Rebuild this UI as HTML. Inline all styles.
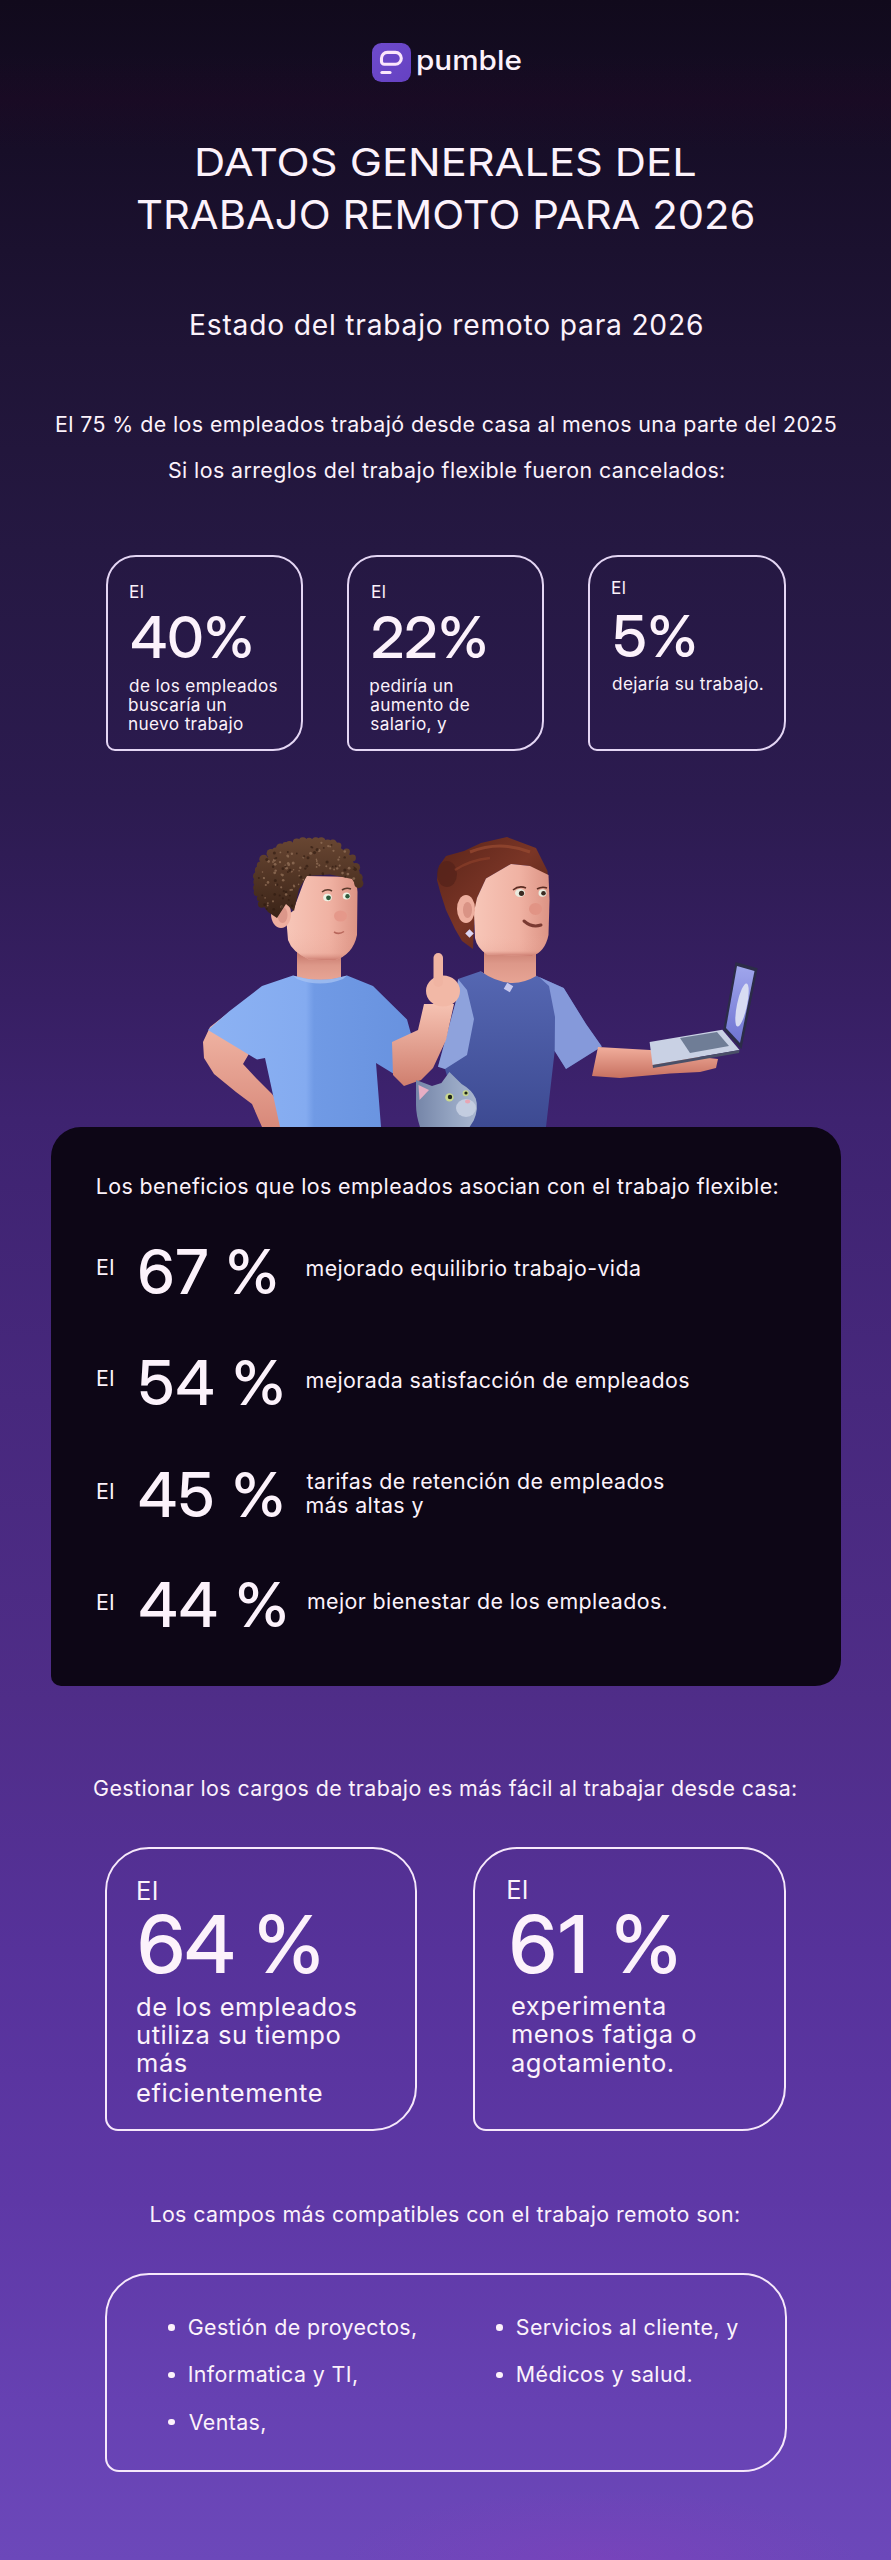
<!DOCTYPE html>
<html lang="es">
<head>
<meta charset="utf-8">
<title>Datos generales del trabajo remoto para 2026 - Pumble</title>
<style>
html,body{margin:0;padding:0;}
body{width:891px;height:2560px;overflow:hidden;position:relative;
  font-family:Inter,"Liberation Sans",Arial,sans-serif;color:#fcf2fb;
  background:radial-gradient(ellipse 260px 70px at 600px 2560px,rgba(140,60,190,0.35),rgba(140,60,190,0)),linear-gradient(180deg,rgba(40,4,36,0) 55px,rgba(40,4,36,0.22) 100px,rgba(40,4,36,0) 150px),linear-gradient(180deg,#110a1c 0px,#170e28 150px,#1f1436 350px,#251842 550px,#2c1b50 800px,#371f63 1000px,#3e2370 1120px,#47287d 1400px,#4f2d88 1700px,#56329a 1950px,#5e38a6 2200px,#6641b2 2400px,#6c48ba 2560px);}
.t{position:absolute;line-height:1;white-space:nowrap;transform-origin:0 0;}
.card{position:absolute;box-sizing:border-box;border:2px solid #e4d6f4;}
.c1{top:555px;width:197.3px;height:196px;border-radius:30px 30px 30px 9px;}
.c2{top:1847.2px;width:312.5px;height:284px;border-radius:44px 44px 44px 13px;border:2px solid #f6e8fb;}
.list{left:104.9px;top:2273.4px;width:682.4px;height:198.5px;border-radius:44px 44px 44px 14px;border:2px solid #f6e8fb;}
.dark{position:absolute;left:51px;top:1126.8px;width:789.5px;height:559.7px;background:#0d0616;border-radius:30px 30px 26px 10px;}
.dot{position:absolute;width:6.6px;height:6.6px;border-radius:50%;background:#fcf2fb;}
.logo{position:absolute;left:371.8px;top:42.9px;width:39px;height:39.2px;border-radius:9.5px;background:linear-gradient(135deg,#6e4bcb,#6541c2);}
</style>
</head>
<body>
<div class="logo">
<svg width="39" height="39" viewBox="0 0 39 39"><path d="M15.4 9.4 H23.4 A5.9 5.9 0 0 1 23.4 21.2 H12.3 A2.8 2.8 0 0 1 9.5 18.4 V15.3 A5.9 5.9 0 0 1 15.4 9.4 Z" fill="none" stroke="#fbe6fb" stroke-width="3.1"/><line x1="9.9" y1="29.5" x2="18" y2="29.5" stroke="#fbe6fb" stroke-width="3.1" stroke-linecap="round"/></svg>
</div>
<div class="card c1" style="left:105.7px"></div>
<div class="card c1" style="left:346.6px"></div>
<div class="card c1" style="left:588.4px"></div>
<svg style="position:absolute;left:0;top:0" width="891" height="1130" viewBox="0 0 891 1130">
<defs>
<linearGradient id="skinM" x1="0" y1="0" x2="1" y2="0"><stop offset="0" stop-color="#f7c6b8"/><stop offset="0.6" stop-color="#f0b2a3"/><stop offset="1" stop-color="#dc9384"/></linearGradient>
<linearGradient id="skinJ" x1="0" y1="0" x2="0" y2="1"><stop offset="0" stop-color="#f2b4a5" stop-opacity="0"/><stop offset="0.75" stop-color="#e19a8b" stop-opacity="0.2"/><stop offset="1" stop-color="#c8776b"/></linearGradient>
<linearGradient id="skinA" x1="0" y1="0" x2="0" y2="1"><stop offset="0" stop-color="#f3b9a8"/><stop offset="1" stop-color="#d8897a"/></linearGradient>
<linearGradient id="skinR" x1="0" y1="0" x2="0" y2="1"><stop offset="0" stop-color="#f6c2b2"/><stop offset="1" stop-color="#cf7e6e"/></linearGradient>
<linearGradient id="skinH" x1="0" y1="0" x2="0" y2="1"><stop offset="0" stop-color="#f1ae9c"/><stop offset="1" stop-color="#c77060"/></linearGradient>
<linearGradient id="shirtM" x1="0" y1="0" x2="1" y2="0"><stop offset="0" stop-color="#8cb2f3"/><stop offset="0.48" stop-color="#84abf0"/><stop offset="0.52" stop-color="#709ae5"/><stop offset="1" stop-color="#6892df"/></linearGradient>
<linearGradient id="shirtW" x1="0" y1="0" x2="0" y2="1"><stop offset="0" stop-color="#5567b2"/><stop offset="1" stop-color="#3d4a92"/></linearGradient>
<linearGradient id="hairM" gradientUnits="userSpaceOnUse" x1="0" y1="838" x2="0" y2="918"><stop offset="0" stop-color="#684632"/><stop offset="1" stop-color="#3a2317"/></linearGradient>
<linearGradient id="neckM" x1="0" y1="0" x2="0" y2="1"><stop offset="0" stop-color="#c07064"/><stop offset="0.45" stop-color="#dd9889"/><stop offset="1" stop-color="#eaa898"/></linearGradient>
<linearGradient id="hairW" x1="0" y1="0" x2="1" y2="1"><stop offset="0" stop-color="#5a2419"/><stop offset="0.5" stop-color="#7a3526"/><stop offset="1" stop-color="#4a1d15"/></linearGradient>
<linearGradient id="scr" x1="0" y1="0" x2="0" y2="1"><stop offset="0" stop-color="#a0a6ec"/><stop offset="1" stop-color="#6f74d2"/></linearGradient>
<linearGradient id="cat" x1="0" y1="0" x2="1" y2="0"><stop offset="0" stop-color="#7585a8"/><stop offset="0.6" stop-color="#95a5c2"/><stop offset="1" stop-color="#a9b6cf"/></linearGradient>
</defs>
<!-- MAN -->
<path d="M228 1013 L210 1027 L203 1042 L204 1058 L214 1074 L236 1092 L252 1104 L258 1118 L262 1127 L287 1127 L284 1110 L272 1094 L256 1078 L243 1064 L250 1052 Z" fill="url(#skinA)"/>
<rect x="297" y="950" width="44" height="34" fill="url(#neckM)"/>
<path d="M306 876 L356 877 L357.5 892 L357 935 Q353 955 334 960.5 L309 959.5 Q292 952 288 940 L286 916 L293 911 Z" fill="url(#skinM)"/>
<path d="M288 930 L357 930 Q353 955 334 960.5 L309 959.5 Q292 952 288 940 Z" fill="url(#skinJ)"/>
<ellipse cx="281" cy="914" rx="10" ry="14" fill="#eeaf9f"/>
<ellipse cx="282.5" cy="915" rx="5" ry="8" fill="#dc978a"/>
<g fill="url(#hairM)">
<path d="M257 884 L261 867 L271 853 L286 845 L303 841.5 L321 842 L338 846 L350 855 L356.5 869 L358 889 L352 879 L330 874.5 L307 876 L299 889 L294 911 L286 904 L277 918 L268 912 L262 904 Z"/>
<circle cx="261.6" cy="904.1" r="3.7"/><circle cx="260.2" cy="898.2" r="3.3"/><circle cx="257.2" cy="892.5" r="3.6"/><circle cx="257.1" cy="887.8" r="3.9"/><circle cx="257.5" cy="882.0" r="4.1"/><circle cx="257.4" cy="876.2" r="4.4"/><circle cx="259.0" cy="870.4" r="4.1"/><circle cx="260.8" cy="865.4" r="4.0"/><circle cx="263.7" cy="859.2" r="4.4"/><circle cx="271.0" cy="853.4" r="4.4"/><circle cx="275.8" cy="851.2" r="3.8"/><circle cx="280.5" cy="847.9" r="4.5"/><circle cx="285.6" cy="845.4" r="3.4"/><circle cx="289.5" cy="844.7" r="3.8"/><circle cx="296.7" cy="842.4" r="3.9"/><circle cx="302.8" cy="841.3" r="4.0"/><circle cx="309.1" cy="842.0" r="4.2"/><circle cx="315.7" cy="841.9" r="4.6"/><circle cx="321.3" cy="841.6" r="4.4"/><circle cx="327.7" cy="843.6" r="4.0"/><circle cx="332.8" cy="844.0" r="4.4"/><circle cx="338.1" cy="845.7" r="3.3"/><circle cx="346.6" cy="851.8" r="3.3"/><circle cx="352.5" cy="857.9" r="3.4"/><circle cx="355.7" cy="867.4" r="4.4"/><circle cx="356.3" cy="872.7" r="3.3"/><circle cx="358.3" cy="877.7" r="4.4"/><circle cx="358.8" cy="883.5" r="4.6"/>
</g>
<g fill="#94725a" opacity="0.75"><circle cx="275.7" cy="870.6" r="1.2"/><circle cx="319.1" cy="850.5" r="1.5"/><circle cx="349.1" cy="868.2" r="1.4"/><circle cx="303.3" cy="879.6" r="0.9"/><circle cx="353.8" cy="878.6" r="1.4"/><circle cx="280.0" cy="862.1" r="1.2"/><circle cx="298.6" cy="884.4" r="0.8"/><circle cx="321.4" cy="842.8" r="1.1"/><circle cx="326.3" cy="866.2" r="1.0"/><circle cx="281.4" cy="874.5" r="0.9"/><circle cx="317.2" cy="863.6" r="1.2"/><circle cx="293.2" cy="863.0" r="1.5"/><circle cx="293.8" cy="885.6" r="1.0"/><circle cx="286.5" cy="868.2" r="1.4"/><circle cx="287.6" cy="855.8" r="1.3"/><circle cx="339.4" cy="857.1" r="0.9"/><circle cx="274.7" cy="872.8" r="1.4"/><circle cx="328.3" cy="846.1" r="1.2"/><circle cx="288.8" cy="864.7" r="1.4"/><circle cx="342.5" cy="873.1" r="1.3"/><circle cx="344.8" cy="851.5" r="1.3"/><circle cx="290.4" cy="890.0" r="1.0"/><circle cx="347.9" cy="874.1" r="1.4"/><circle cx="310.6" cy="853.3" r="1.5"/><circle cx="274.3" cy="860.3" r="1.4"/><circle cx="339.7" cy="865.6" r="1.1"/><circle cx="268.6" cy="861.4" r="1.3"/><circle cx="338.4" cy="859.7" r="1.1"/><circle cx="291.4" cy="871.4" r="0.9"/><circle cx="299.1" cy="870.8" r="0.8"/><circle cx="285.3" cy="865.3" r="0.9"/><circle cx="316.8" cy="861.0" r="0.9"/><circle cx="273.0" cy="862.0" r="0.9"/><circle cx="319.3" cy="865.3" r="1.1"/><circle cx="281.5" cy="906.9" r="1.3"/><circle cx="291.9" cy="853.8" r="1.2"/><circle cx="273.0" cy="901.3" r="1.1"/><circle cx="283.2" cy="880.2" r="1.3"/><circle cx="299.4" cy="875.8" r="1.0"/><circle cx="264.0" cy="878.2" r="1.1"/><circle cx="288.2" cy="863.2" r="1.3"/><circle cx="291.9" cy="889.8" r="1.1"/><circle cx="316.6" cy="866.9" r="0.9"/><circle cx="275.1" cy="864.3" r="1.4"/><circle cx="268.0" cy="882.4" r="1.3"/><circle cx="330.2" cy="868.4" r="1.1"/><circle cx="294.2" cy="886.4" r="1.1"/><circle cx="337.2" cy="868.4" r="1.2"/><circle cx="300.3" cy="867.8" r="1.2"/><circle cx="303.4" cy="857.6" r="1.0"/><circle cx="262.5" cy="872.0" r="0.8"/><circle cx="353.3" cy="867.9" r="0.9"/><circle cx="282.5" cy="875.1" r="1.3"/><circle cx="267.9" cy="903.1" r="0.9"/><circle cx="265.8" cy="885.0" r="1.1"/><circle cx="267.7" cy="905.5" r="0.9"/><circle cx="330.1" cy="846.5" r="0.9"/><circle cx="280.4" cy="852.4" r="0.9"/><circle cx="281.2" cy="887.3" r="1.1"/><circle cx="334.1" cy="869.5" r="0.9"/><circle cx="293.6" cy="869.7" r="0.8"/><circle cx="291.8" cy="871.5" r="0.9"/><circle cx="263.7" cy="878.0" r="0.9"/><circle cx="333.5" cy="850.8" r="1.1"/><circle cx="265.1" cy="897.9" r="0.8"/><circle cx="274.5" cy="859.4" r="0.8"/><circle cx="275.9" cy="884.8" r="1.1"/><circle cx="288.1" cy="856.6" r="1.1"/><circle cx="286.1" cy="894.4" r="1.3"/><circle cx="316.4" cy="859.4" r="0.8"/></g><g fill="#2e1a10" opacity="0.6"><circle cx="305.3" cy="868.6" r="1.2"/><circle cx="273.1" cy="866.8" r="1.2"/><circle cx="288.8" cy="899.9" r="0.9"/><circle cx="344.9" cy="870.0" r="1.6"/><circle cx="304.1" cy="856.4" r="1.1"/><circle cx="279.7" cy="895.4" r="1.0"/><circle cx="344.7" cy="857.4" r="1.2"/><circle cx="274.9" cy="858.7" r="1.0"/><circle cx="274.7" cy="894.4" r="1.3"/><circle cx="281.8" cy="907.2" r="1.1"/><circle cx="287.9" cy="871.9" r="1.0"/><circle cx="331.5" cy="844.9" r="0.9"/><circle cx="264.7" cy="904.7" r="1.4"/><circle cx="285.6" cy="866.5" r="1.1"/><circle cx="300.8" cy="876.9" r="1.5"/><circle cx="277.1" cy="884.8" r="1.2"/><circle cx="355.3" cy="869.3" r="1.6"/><circle cx="312.2" cy="847.5" r="1.1"/><circle cx="283.8" cy="891.2" r="1.1"/><circle cx="266.8" cy="909.0" r="1.1"/><circle cx="353.8" cy="867.9" r="1.5"/><circle cx="286.0" cy="892.1" r="1.3"/><circle cx="282.9" cy="898.3" r="1.1"/><circle cx="311.3" cy="847.1" r="1.0"/><circle cx="306.9" cy="866.2" r="1.4"/><circle cx="314.5" cy="852.6" r="1.6"/><circle cx="273.8" cy="909.2" r="1.3"/><circle cx="323.8" cy="847.9" r="0.9"/><circle cx="289.8" cy="895.6" r="0.9"/><circle cx="323.0" cy="874.6" r="1.0"/><circle cx="287.8" cy="852.1" r="1.0"/><circle cx="262.2" cy="895.3" r="0.9"/><circle cx="332.7" cy="866.7" r="0.9"/><circle cx="282.9" cy="868.7" r="1.4"/><circle cx="308.0" cy="857.8" r="1.5"/><circle cx="335.7" cy="866.3" r="1.0"/><circle cx="290.0" cy="870.3" r="1.6"/><circle cx="292.1" cy="905.8" r="1.2"/><circle cx="266.8" cy="859.6" r="1.5"/><circle cx="274.4" cy="853.1" r="1.5"/><circle cx="317.2" cy="849.7" r="1.6"/><circle cx="296.8" cy="853.5" r="0.9"/><circle cx="276.2" cy="858.0" r="1.1"/><circle cx="354.7" cy="868.7" r="1.3"/><circle cx="327.1" cy="862.0" r="1.6"/><circle cx="345.3" cy="876.7" r="1.0"/><circle cx="310.0" cy="874.8" r="1.1"/><circle cx="275.3" cy="880.4" r="1.5"/><circle cx="258.9" cy="878.0" r="1.0"/><circle cx="322.8" cy="873.5" r="1.2"/></g>
<path d="M322 892 Q327 888 332 891" stroke="#5b3a2c" stroke-width="1.6" fill="none"/>
<path d="M342 890 Q346 887 351 889" stroke="#5b3a2c" stroke-width="1.6" fill="none"/>
<ellipse cx="327.5" cy="897.5" rx="4.3" ry="3.8" fill="#eef2e4"/><circle cx="328.5" cy="897.8" r="2.4" fill="#2f5a3c"/>
<ellipse cx="346.5" cy="896" rx="3.8" ry="3.6" fill="#eef2e4"/><circle cx="347.5" cy="896.2" r="2.2" fill="#2f5a3c"/>
<ellipse cx="340.5" cy="916" rx="6.5" ry="5.5" fill="#e5988a"/>
<path d="M334 932 Q339 935 344 931.5" stroke="#b8675c" stroke-width="1.5" fill="none"/>
<path d="M293 975.5 L262 986 L229 1011.5 L208 1030 L257 1059.5 L265 1058 L280 1127 L381 1127 L376 1063 L394 1074 L412 1037.5 L407 1019.5 L373 986 L347 975.5 Q320 984 293 975.5 Z" fill="url(#shirtM)"/>
<path d="M293 975.5 Q320 984 347 975.5 L343 979 Q320 988 297 979 Z" fill="#a9c4f4" opacity="0.7"/>
<!-- WOMAN -->
<rect x="484" y="942" width="52" height="48" fill="url(#neckM)"/>
<path d="M437 880 L439 866 L446 856 L464 851 L481 843 L507 837 L536 848 L547.5 871 L548 880 L530 866 L511 864 L486 878.5 L477 898 L474 925 L473 949 L462 941 L455 929 L446 910 L440.5 893 Z" fill="url(#hairW)"/>
<ellipse cx="447" cy="874" rx="10" ry="13" fill="#56231a" opacity="0.8"/>
<path d="M470 852 Q500 840 530 852" stroke="#93472f" stroke-width="3" fill="none" opacity="0.8"/>
<path d="M455 870 Q470 860 490 858" stroke="#8a3f2a" stroke-width="2.5" fill="none" opacity="0.7"/>
<path d="M477 898 L486 878.5 L511 864 L530 866 L548.5 875 L549.5 900 L548.5 935 Q545 952 532 956 L487 954.5 Q477 948 475 938 L474 912 Z" fill="url(#skinM)"/>
<path d="M475 935 L548.5 935 Q545 952 532 956 L487 954.5 Q477 948 475 938 Z" fill="url(#skinJ)"/>
<ellipse cx="466" cy="909" rx="9" ry="14" fill="#eeaf9f"/>
<ellipse cx="467.5" cy="910" rx="4.5" ry="8" fill="#d99385"/>
<path d="M478 1000 L480.6 971.3 Q509.8 992 536.7 975.8 L540 1000 Z" fill="#e3a191"/>
<path d="M480.6 971.3 L458 979 L456 1001 L438 1066.7 L445 1069 L462 1127 L546 1127 L554.7 1051 L566 1069 L601.8 1046.5 L586 1024 L563.7 988 L539 977 L536.7 975.8 Q509.8 992 480.6 971.3 Z" fill="url(#shirtW)"/>
<path d="M458 979 L456 1001 L438 1066.7 L445 1069 L467 1055 L474 1019 L467 990 Z" fill="#8ea2dc"/>
<path d="M539 977 L563.7 988 L586 1024 L601.8 1046.5 L566 1069 L554.7 1051 L555 1017 L549 986 Z" fill="#8599da"/>
<path d="M598 1047 L650 1050 L700 1057 L718 1059 L716 1068 L700 1072 L670 1073.5 L620 1078 L592 1076 Z" fill="url(#skinH)"/>
<path d="M513 890 Q519 885 526 888" stroke="#5b2c22" stroke-width="1.6" fill="none"/>
<path d="M537 889 Q542 886 547 888" stroke="#5b2c22" stroke-width="1.6" fill="none"/>
<ellipse cx="520" cy="893" rx="5" ry="4" fill="#e9ebdf"/><circle cx="521.5" cy="893.3" r="2.6" fill="#3a2a22"/>
<ellipse cx="542.5" cy="893" rx="4" ry="3.8" fill="#e9ebdf"/><circle cx="543.5" cy="893.3" r="2.3" fill="#3a2a22"/>
<ellipse cx="535.5" cy="909" rx="6.5" ry="6" fill="#e19485"/>
<path d="M524 921 Q532 928 541 925" stroke="#7a3a32" stroke-width="3" fill="none" stroke-linecap="round"/>
<rect x="466.5" y="930.5" width="6" height="6" fill="#dcd6f4" transform="rotate(45 469.5 933.5)"/>
<rect x="505" y="984" width="7" height="7" fill="#c7c8ee" transform="rotate(30 508.5 987.5)"/>
<!-- raised arm (in front) -->
<path d="M392 1042 L418 1030 L424 1004 L454 1004 L446 1040 L433 1068 L421 1080 L404 1086 L393 1075 Z" fill="url(#skinR)"/>
<ellipse cx="443" cy="991" rx="17" ry="15.5" fill="#f2b8a6"/>
<rect x="433.5" y="953" width="9.5" height="34" rx="4.75" fill="#f0b4a2"/>
<!-- laptop -->
<polygon points="649.6,1042 722.3,1029.8 739.5,1050 652.6,1065" fill="#c9d1e4"/>
<polygon points="680,1038 717,1032 729,1046 690,1053" fill="#6f7d96"/>
<polygon points="652.6,1065 739.5,1050 739,1053 653,1068" fill="#4a5068"/>
<polygon points="735.5,962 757.7,968.2 741.5,1049 723.3,1029.8" fill="#2c2c48"/>
<polygon points="737,966 754.5,971 740,1043 726,1028" fill="url(#scr)"/>
<ellipse cx="742" cy="1005" rx="5" ry="22" fill="#d8dcf2" transform="rotate(12 742 1005)"/>
<!-- cat -->
<path d="M416 1080 L432 1086 L441.4 1083 L449.4 1072 L461.6 1084 Q472 1090 475.7 1098.4 Q479 1108 473.7 1120.6 L469.6 1127 L420 1127 Q416 1115 416 1105 Z" fill="url(#cat)"/>
<path d="M418.5 1085 L429 1090 L419.5 1100 Z" fill="#e7aec4"/>
<ellipse cx="466" cy="1108" rx="10" ry="9" fill="#c3cde0"/>
<circle cx="449.4" cy="1097.4" r="4.2" fill="#c9d88e"/><circle cx="450" cy="1097" r="2.2" fill="#1e2418"/>
<circle cx="465.6" cy="1093.3" r="3" fill="#c9d88e"/><circle cx="466" cy="1093" r="1.6" fill="#1e2418"/>
<ellipse cx="467.6" cy="1101.4" rx="2.6" ry="2" fill="#e7a6b4"/>
</svg>

<div class="dark"></div>
<div class="card c2" style="left:104.9px"></div>
<div class="card c2" style="left:473.1px;width:313px"></div>
<div class="card list"></div>
<div class="dot" style="left:168.0px;top:2324.0px"></div>
<div class="dot" style="left:168.0px;top:2371.7px"></div>
<div class="dot" style="left:168.0px;top:2418.9px"></div>
<div class="dot" style="left:496.2px;top:2324.0px"></div>
<div class="dot" style="left:496.2px;top:2371.6px"></div>
<div class="t" style="left:415.92px;top:47.06px;font-size:27.6px;font-weight:500;transform:scaleX(1.0762);--aw:98.00;--sx:1.0762;">pumble</div>
<div class="t" style="left:194.45px;top:143.29px;font-size:38.8px;font-weight:400;transform:scaleX(1.1160);--aw:450.00;--sx:1.1160;">DATOS GENERALES DEL</div>
<div class="t" style="left:135.63px;top:194.94px;font-size:39.2px;font-weight:400;transform:scaleX(1.0662);--aw:581.00;--sx:1.0662;">TRABAJO REMOTO PARA 2026</div>
<div class="t" style="left:189.00px;top:310.94px;font-size:28.2px;font-weight:400;letter-spacing:0.79px;--aw:515.00;--sx:1.0000;">Estado del trabajo remoto para 2026</div>
<div class="t" style="left:55.00px;top:413.72px;font-size:21.4px;font-weight:400;letter-spacing:0.4px;--aw:782.00;--sx:1.0000;">El 75 % de los empleados trabajó desde casa al menos una parte del 2025</div>
<div class="t" style="left:168.00px;top:459.52px;font-size:21.4px;font-weight:400;letter-spacing:0.4px;--aw:558.00;--sx:1.0000;">Si los arreglos del trabajo flexible fueron cancelados:</div>
<div class="t" style="left:129.00px;top:582.74px;font-size:17.2px;font-weight:400;letter-spacing:0.36px;--aw:15.00;--sx:1.0000;">El</div>
<div class="t" style="left:130.50px;top:608.41px;font-size:58.1px;font-weight:500;font-family:'Inter Display',Inter,'Liberation Sans',Arial,sans-serif;--aw:124.00;--sx:1.0000;">40%</div>
<div class="t" style="left:129.00px;top:676.54px;font-size:17.2px;font-weight:400;letter-spacing:0.36px;--aw:149.00;--sx:1.0000;">de los empleados</div>
<div class="t" style="left:128.00px;top:695.64px;font-size:17.2px;font-weight:400;letter-spacing:0.36px;--aw:99.00;--sx:1.0000;">buscaría un</div>
<div class="t" style="left:128.00px;top:714.84px;font-size:17.2px;font-weight:400;letter-spacing:0.36px;--aw:116.00;--sx:1.0000;">nuevo trabajo</div>
<div class="t" style="left:371.00px;top:582.84px;font-size:17.2px;font-weight:400;letter-spacing:0.36px;--aw:15.00;--sx:1.0000;">El</div>
<div class="t" style="left:371.00px;top:608.11px;font-size:58.1px;font-weight:500;font-family:'Inter Display',Inter,'Liberation Sans',Arial,sans-serif;--aw:118.00;--sx:1.0000;">22%</div>
<div class="t" style="left:369.30px;top:676.54px;font-size:17.2px;font-weight:400;letter-spacing:0.36px;--aw:85.00;--sx:1.0000;">pediría un</div>
<div class="t" style="left:370.30px;top:695.64px;font-size:17.2px;font-weight:400;letter-spacing:0.36px;--aw:100.00;--sx:1.0000;">aumento de</div>
<div class="t" style="left:370.30px;top:714.84px;font-size:17.2px;font-weight:400;letter-spacing:0.36px;--aw:77.00;--sx:1.0000;">salario, y</div>
<div class="t" style="left:611.00px;top:579.44px;font-size:17.2px;font-weight:400;letter-spacing:0.36px;--aw:15.00;--sx:1.0000;">El</div>
<div class="t" style="left:613.00px;top:607.11px;font-size:58.1px;font-weight:500;font-family:'Inter Display',Inter,'Liberation Sans',Arial,sans-serif;--aw:85.00;--sx:1.0000;">5%</div>
<div class="t" style="left:612.00px;top:675.24px;font-size:17.2px;font-weight:400;letter-spacing:0.36px;--aw:152.00;--sx:1.0000;">dejaría su trabajo.</div>
<div class="t" style="left:95.80px;top:1175.92px;font-size:21.4px;font-weight:400;letter-spacing:0.4px;--aw:683.00;--sx:1.0000;">Los beneficios que los empleados asocian con el trabajo flexible:</div>
<div class="t" style="left:95.90px;top:1257.42px;font-size:21.4px;font-weight:400;letter-spacing:0.4px;--aw:19.00;--sx:1.0000;">El</div>
<div class="t" style="left:137.80px;top:1240.88px;font-size:61.5px;font-weight:500;font-family:'Inter Display',Inter,'Liberation Sans',Arial,sans-serif;letter-spacing:1.3px;--aw:143.00;--sx:1.0000;">67 %</div>
<div class="t" style="left:305.50px;top:1258.12px;font-size:21.4px;font-weight:400;letter-spacing:0.4px;--aw:336.00;--sx:1.0000;">mejorado equilibrio trabajo-vida</div>
<div class="t" style="left:95.90px;top:1368.42px;font-size:21.4px;font-weight:400;letter-spacing:0.4px;--aw:19.00;--sx:1.0000;">El</div>
<div class="t" style="left:138.50px;top:1351.88px;font-size:61.5px;font-weight:500;font-family:'Inter Display',Inter,'Liberation Sans',Arial,sans-serif;letter-spacing:1.3px;--aw:148.00;--sx:1.0000;">54 %</div>
<div class="t" style="left:305.50px;top:1369.92px;font-size:21.4px;font-weight:400;letter-spacing:0.4px;--aw:384.00;--sx:1.0000;">mejorada satisfacción de empleados</div>
<div class="t" style="left:95.90px;top:1480.62px;font-size:21.4px;font-weight:400;letter-spacing:0.4px;--aw:19.00;--sx:1.0000;">El</div>
<div class="t" style="left:138.30px;top:1463.88px;font-size:61.5px;font-weight:500;font-family:'Inter Display',Inter,'Liberation Sans',Arial,sans-serif;letter-spacing:1.3px;--aw:148.00;--sx:1.0000;">45 %</div>
<div class="t" style="left:306.50px;top:1470.72px;font-size:21.4px;font-weight:400;letter-spacing:0.4px;--aw:358.00;--sx:1.0000;">tarifas de retención de empleados</div>
<div class="t" style="left:305.50px;top:1495.22px;font-size:21.4px;font-weight:400;letter-spacing:0.4px;--aw:118.00;--sx:1.0000;">más altas y</div>
<div class="t" style="left:95.90px;top:1591.62px;font-size:21.4px;font-weight:400;letter-spacing:0.4px;--aw:19.00;--sx:1.0000;">El</div>
<div class="t" style="left:138.80px;top:1574.38px;font-size:61.5px;font-weight:500;font-family:'Inter Display',Inter,'Liberation Sans',Arial,sans-serif;letter-spacing:1.3px;--aw:151.00;--sx:1.0000;">44 %</div>
<div class="t" style="left:306.90px;top:1591.32px;font-size:21.4px;font-weight:400;letter-spacing:0.4px;--aw:361.00;--sx:1.0000;">mejor bienestar de los empleados.</div>
<div class="t" style="left:93.10px;top:1778.32px;font-size:21.4px;font-weight:400;letter-spacing:0.4px;--aw:705.00;--sx:1.0000;">Gestionar los cargos de trabajo es más fácil al trabajar desde casa:</div>
<div class="t" style="left:136.10px;top:1877.97px;font-size:25.5px;font-weight:400;letter-spacing:0.55px;--aw:23.00;--sx:1.0000;">El</div>
<div class="t" style="left:137.40px;top:1904.76px;font-size:79.7px;font-weight:500;font-family:'Inter Display',Inter,'Liberation Sans',Arial,sans-serif;--aw:186.00;--sx:1.0000;">64 %</div>
<div class="t" style="left:136.10px;top:1994.27px;font-size:25.5px;font-weight:400;letter-spacing:0.55px;--aw:221.00;--sx:1.0000;">de los empleados</div>
<div class="t" style="left:136.10px;top:2022.07px;font-size:25.5px;font-weight:400;letter-spacing:0.55px;--aw:205.00;--sx:1.0000;">utiliza su tiempo</div>
<div class="t" style="left:136.10px;top:2050.07px;font-size:25.5px;font-weight:400;letter-spacing:0.55px;--aw:52.00;--sx:1.0000;">más</div>
<div class="t" style="left:136.10px;top:2079.97px;font-size:25.5px;font-weight:400;letter-spacing:0.55px;--aw:187.00;--sx:1.0000;">eficientemente</div>
<div class="t" style="left:506.20px;top:1877.17px;font-size:25.5px;font-weight:400;letter-spacing:0.55px;--aw:23.00;--sx:1.0000;">El</div>
<div class="t" style="left:509.30px;top:1904.76px;font-size:79.7px;font-weight:500;font-family:'Inter Display',Inter,'Liberation Sans',Arial,sans-serif;letter-spacing:2px;--aw:174.00;--sx:1.0000;">61 %</div>
<div class="t" style="left:510.90px;top:1993.27px;font-size:25.5px;font-weight:400;letter-spacing:0.55px;--aw:156.00;--sx:1.0000;">experimenta</div>
<div class="t" style="left:510.90px;top:2021.07px;font-size:25.5px;font-weight:400;letter-spacing:0.55px;--aw:186.00;--sx:1.0000;">menos fatiga o</div>
<div class="t" style="left:510.90px;top:2049.67px;font-size:25.5px;font-weight:400;letter-spacing:0.55px;--aw:164.00;--sx:1.0000;">agotamiento.</div>
<div class="t" style="left:149.40px;top:2204.32px;font-size:21.4px;font-weight:400;letter-spacing:0.4px;--aw:591.00;--sx:1.0000;">Los campos más compatibles con el trabajo remoto son:</div>
<div class="t" style="left:187.70px;top:2316.72px;font-size:21.4px;font-weight:400;letter-spacing:0.4px;--aw:230.00;--sx:1.0000;">Gestión de proyectos,</div>
<div class="t" style="left:187.70px;top:2364.42px;font-size:21.4px;font-weight:400;letter-spacing:0.4px;--aw:171.00;--sx:1.0000;">Informatica y TI,</div>
<div class="t" style="left:188.70px;top:2411.62px;font-size:21.4px;font-weight:400;letter-spacing:0.4px;--aw:78.00;--sx:1.0000;">Ventas,</div>
<div class="t" style="left:515.80px;top:2316.72px;font-size:21.4px;font-weight:400;letter-spacing:0.4px;--aw:223.00;--sx:1.0000;">Servicios al cliente, y</div>
<div class="t" style="left:515.80px;top:2364.42px;font-size:21.4px;font-weight:400;letter-spacing:0.4px;--aw:177.00;--sx:1.0000;">Médicos y salud.</div>
<script>
(function(){
  var els = document.querySelectorAll('.t');
  for (var i = 0; i < els.length; i++) {
    var el = els[i], cs = getComputedStyle(el);
    var aw = parseFloat(cs.getPropertyValue('--aw')), sx = parseFloat(cs.getPropertyValue('--sx')) || 1;
    var w = el.offsetWidth;
    if (aw > 0 && w > 0 && Math.abs(w - aw) / aw > 0.01) {
      el.style.transform = 'scaleX(' + (sx * aw / w).toFixed(4) + ')';
    }
  }
})();
</script>
</body>
</html>
